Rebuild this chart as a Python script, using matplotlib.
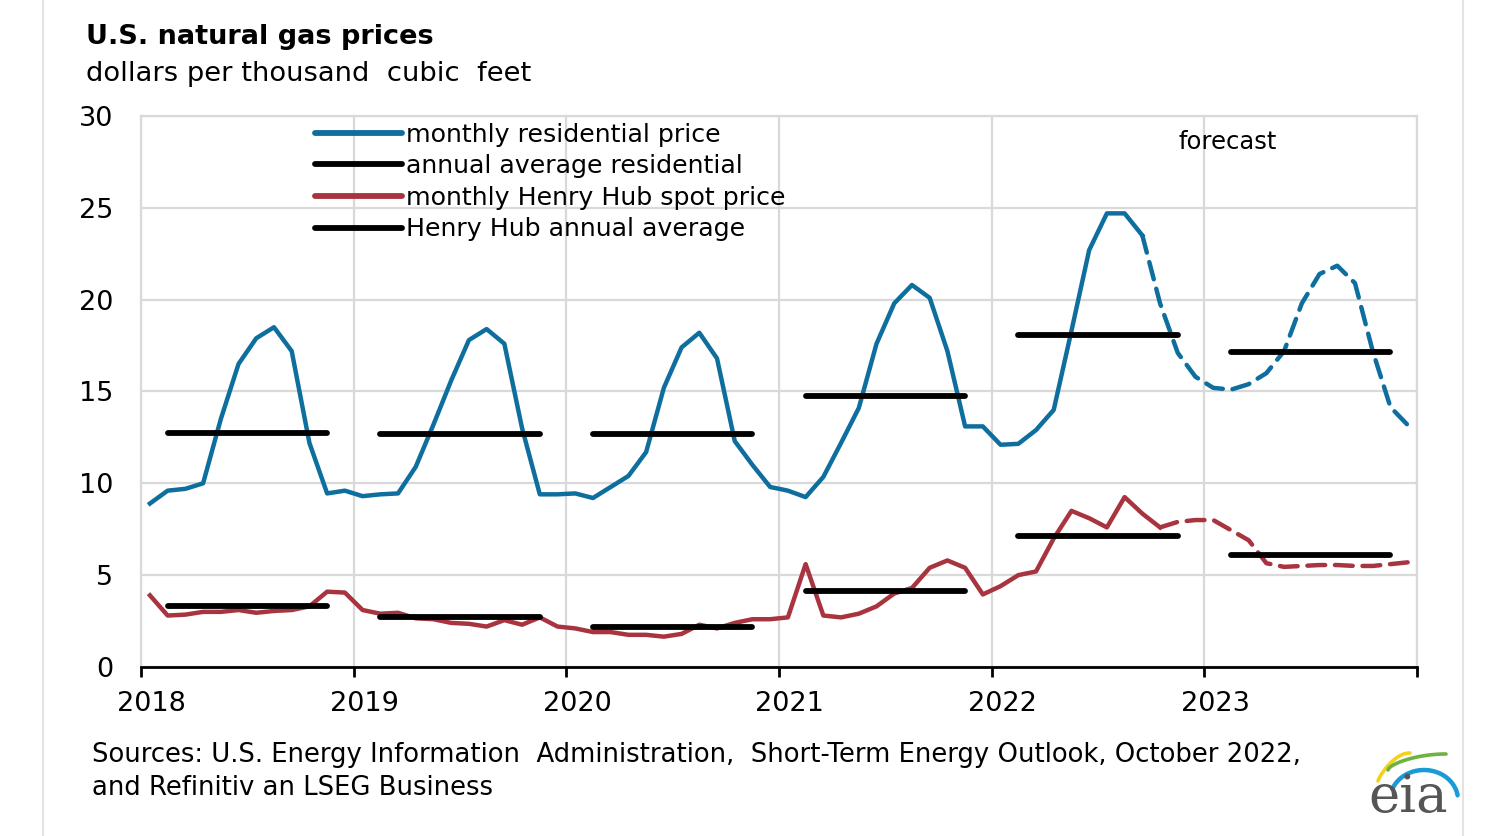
import numpy as np
import matplotlib
matplotlib.use("Agg")
from matplotlib import pyplot as plt
from matplotlib.lines import Line2D

plt.rcParams['font.family'] = ['DejaVu Sans']

# monthly values, Jan 2018 .. Dec 2023
residential = [8.9, 9.6, 9.7, 10.0, 13.5, 16.5, 17.9, 18.5, 17.2, 12.2, 9.45, 9.6,
               9.3, 9.4, 9.45, 10.9, 13.2, 15.6, 17.8, 18.4, 17.6, 13.0, 9.4, 9.4,
               9.45, 9.2, 9.8, 10.4, 11.7, 15.2, 17.4, 18.2, 16.8, 12.3, 11.0, 9.8,
               9.6, 9.25, 10.35, 12.2, 14.1, 17.6, 19.8, 20.8, 20.1, 17.2, 13.1, 13.1,
               12.1, 12.15, 12.9, 14.0, 18.3, 22.7, 24.7, 24.7, 23.5, 19.8, 17.1, 15.8,
               15.2, 15.1, 15.4, 16.0, 17.2, 19.8, 21.4, 21.85, 20.9, 17.2, 14.15, 13.15]
henry_hub = [3.9, 2.8, 2.85, 3.0, 3.0, 3.1, 2.95, 3.05, 3.1, 3.3, 4.1, 4.05,
             3.1, 2.9, 2.95, 2.65, 2.6, 2.4, 2.35, 2.2, 2.55, 2.3, 2.7, 2.2,
             2.1, 1.9, 1.9, 1.75, 1.75, 1.65, 1.8, 2.3, 2.1, 2.4, 2.6, 2.6,
             2.7, 5.6, 2.8, 2.7, 2.9, 3.3, 4.0, 4.3, 5.4, 5.8, 5.4, 3.95,
             4.4, 5.0, 5.2, 7.0, 8.5, 8.1, 7.6, 9.25, 8.35, 7.6, 7.9, 8.0,
             8.0, 7.45, 6.9, 5.65, 5.45, 5.5, 5.55, 5.55, 5.5, 5.5, 5.6, 5.7]
years = [2018, 2019, 2020, 2021, 2022, 2023]
res_annual = [12.73, 12.66, 12.66, 14.78, 18.08, 17.17]
hh_annual = [3.33, 2.73, 2.19, 4.15, 7.14, 6.09]
res_last_hist = 56   # Sep 2022
hh_last_hist = 57    # Oct 2022

blue = '#0e6e9e'
red = '#a8343f'

x = 2018 + (np.arange(len(residential)) + 0.5) / 12

fig = plt.figure(figsize=(14.88, 8.36), dpi=100)
ax = fig.add_axes([0.0948, 0.2022, 0.8575, 0.659])

ax.plot(x[:res_last_hist + 1], residential[:res_last_hist + 1], color=blue, lw=3.2,
        solid_joinstyle='round', zorder=3)
ax.plot(x[res_last_hist:], residential[res_last_hist:], color=blue, lw=3.2,
        dashes=(4.0, 2.2), dash_capstyle='round', zorder=3)
ax.plot(x[:hh_last_hist + 1], henry_hub[:hh_last_hist + 1], color=red, lw=3.2,
        solid_joinstyle='round', zorder=3)
ax.plot(x[hh_last_hist:], henry_hub[hh_last_hist:], color=red, lw=3.2,
        dashes=(4.0, 2.2), dash_capstyle='round', zorder=3)

yr = np.array(years)
ax.hlines(res_annual, yr + 1.5 / 12, yr + 10.5 / 12, color='black', lw=4.2,
          capstyle='round', zorder=4)
ax.hlines(hh_annual, yr + 1.5 / 12, yr + 10.5 / 12, color='black', lw=4.2,
          capstyle='round', zorder=4)

ax.set_xlim(2018, 2024)
ax.set_ylim(0, 30)
# year ticks, labels centred on the January point
ax.set_xticks(range(2018, 2025))
ax.set_xticklabels([])
ax.set_xticks(yr + 0.6 / 12, minor=True)
ax.set_xticklabels([str(y) for y in years], minor=True)
ax.set_yticks(range(0, 31, 5))
ax.grid(True, which='major', color='#d9d9d9', lw=1.6, zorder=0)
for s in ['top', 'right', 'left']:
    ax.spines[s].set_color('#d9d9d9')
    ax.spines[s].set_linewidth(1.6)
ax.spines['bottom'].set_color('black')
ax.spines['bottom'].set_linewidth(2)
ax.spines['bottom'].set_zorder(5)
ax.tick_params(axis='x', which='major', length=7, width=2, direction='out')
ax.tick_params(axis='x', which='minor', length=0, pad=17, labelsize=19.5)
ax.tick_params(axis='y', length=0, pad=20, labelsize=19.5)

handles = [Line2D([], [], color=blue, lw=4.2, solid_capstyle='round'),
           Line2D([], [], color='black', lw=4.2, solid_capstyle='round'),
           Line2D([], [], color=red, lw=4.2, solid_capstyle='round'),
           Line2D([], [], color='black', lw=4.2, solid_capstyle='round')]
labels = ['monthly residential price', 'annual average residential',
          'monthly Henry Hub spot price', 'Henry Hub annual average']
ax.legend(handles, labels, loc='upper left', bbox_to_anchor=(0.136, 0.988),
          frameon=False, fontsize=18.2, handlelength=3.45, handletextpad=0.15,
          labelspacing=0.3, borderpad=0, borderaxespad=0)

ax.text(2023.11, 28.6, 'forecast', fontsize=17.5, ha='center', va='center')

fig.text(0.058, 0.956, 'U.S. natural gas prices', fontsize=19.5, fontweight='bold',
         va='center', ha='left')
fig.text(0.058, 0.912, 'dollars per thousand  cubic  feet', fontsize=19.7,
         va='center', ha='left')
fig.text(0.062, 0.097, 'Sources: U.S. Energy Information  Administration,  Short-Term Energy Outlook, October 2022,',
         fontsize=18.6, va='center', ha='left')
fig.text(0.062, 0.057, 'and Refinitiv an LSEG Business', fontsize=18.6,
         va='center', ha='left')

# page borders
fig.add_artist(Line2D([0.029, 0.029], [0, 1], color='#e3e3e3', lw=1.5))
fig.add_artist(Line2D([0.983, 0.983], [0, 1], color='#e3e3e3', lw=1.5))

# eia logo, drawn in pixel coordinates of a small inset
lg = fig.add_axes([1362 / 1488, 1 - 822 / 836, 105 / 1488, 82 / 836])
lg.set_xlim(1362, 1467)
lg.set_ylim(822, 740)
lg.axis('off')
t = np.linspace(0, 1, 60)
lg.plot(1378 + 32 * t, 781 - 28 * np.sin(t * np.pi / 2) ** 0.8, color='#f2d21b', lw=2.6,
        solid_capstyle='round')
lg.plot(1388 + 58 * t, 770 - 16 * np.sin(t * np.pi / 2) ** 0.6, color='#6cb33f', lw=2.6,
        solid_capstyle='round')
ang = np.linspace(np.pi * 0.88, np.pi * 0.05, 60)
lg.plot(1424 + 34 * np.cos(ang), 800 - 30 * np.sin(ang), color='#1a9ad6', lw=3.2,
        solid_capstyle='round')
lg.text(1408, 798, 'eia', fontsize=38, family='DejaVu Serif', color='#555555',
        ha='center', va='center')

fig.savefig('out.png', dpi=100)
